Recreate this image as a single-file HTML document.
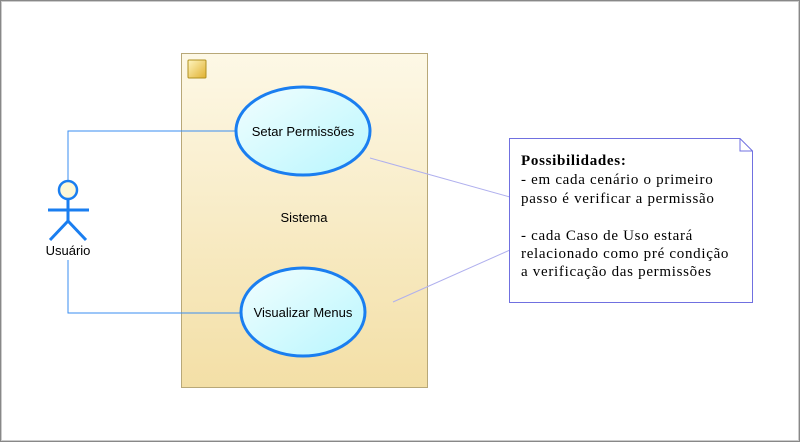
<!DOCTYPE html>
<html><head><style>
body{margin:0;background:#fff;}
svg{display:block;}
</style></head><body>
<svg width="800" height="442" xmlns="http://www.w3.org/2000/svg">
<defs>
<linearGradient id="sys" x1="0" y1="0" x2="0" y2="1">
<stop offset="0" stop-color="#fdf8e6"/><stop offset="1" stop-color="#f3dfa6"/>
</linearGradient>
<linearGradient id="uc" x1="0" y1="0" x2="1" y2="1">
<stop offset="0" stop-color="#f2feff"/><stop offset="1" stop-color="#b8f6fd"/>
</linearGradient>
<linearGradient id="ic" x1="0" y1="0" x2="1" y2="1">
<stop offset="0" stop-color="#fff6c0"/><stop offset="1" stop-color="#e0b030"/>
</linearGradient>
</defs>
<rect x="0.5" y="0.5" width="799" height="441" fill="#fff" stroke="#888"/>
<rect x="1.5" y="1.5" width="797" height="439" fill="none" stroke="#ccc"/>
<rect x="181.5" y="53.5" width="246" height="334" fill="url(#sys)" stroke="#b8a878"/>
<rect x="188" y="60" width="18" height="18" fill="url(#ic)" stroke="#b09020" rx="1"/>
<text x="304" y="222" font-family="Liberation Sans, sans-serif" font-size="13" text-anchor="middle">Sistema</text>
<g stroke="#3a8ef0" stroke-width="1" fill="none">
<polyline points="68,180 68,131 236,131"/>
<polyline points="68,260 68,313 241,313"/>
</g>
<g stroke="#b0b0ee" stroke-width="1">
<line x1="370" y1="158" x2="510" y2="197"/>
<line x1="393" y1="302" x2="510" y2="250"/>
</g>
<ellipse cx="303" cy="131" rx="67" ry="44" fill="url(#uc)" stroke="#1a7ef0" stroke-width="3"/>
<text x="303" y="136" font-family="Liberation Sans, sans-serif" font-size="13" text-anchor="middle">Setar Permissões</text>
<ellipse cx="303" cy="312" rx="62" ry="44" fill="url(#uc)" stroke="#1a7ef0" stroke-width="3"/>
<text x="303" y="317" font-family="Liberation Sans, sans-serif" font-size="13" text-anchor="middle">Visualizar Menus</text>
<g stroke="#1a7ef0" stroke-width="3" fill="none">
<circle cx="68" cy="190" r="9" fill="#fdf8d8" stroke-width="2.5"/>
<line x1="68" y1="199" x2="68" y2="222"/>
<line x1="48" y1="210" x2="89" y2="210"/>
<line x1="68" y1="221" x2="50" y2="240"/>
<line x1="68" y1="221" x2="86" y2="240"/>
</g>
<text x="68" y="255" font-family="Liberation Sans, sans-serif" font-size="13" text-anchor="middle">Usuário</text>
<path d="M509.5,138.5 H740 L752.5,151 V302.5 H509.5 Z" fill="#fff" stroke="#7070e0"/>
<path d="M740,138.5 V151 H752.5" fill="none" stroke="#7070e0"/>
<g font-family="Liberation Serif, serif" font-size="15" letter-spacing="0.7">
<text x="521" y="165" font-weight="bold">Possibilidades:</text>
<text x="521" y="184">- em cada cenário o primeiro</text>
<text x="521" y="203">passo é verificar a permissão</text>
<text x="521" y="240">- cada Caso de Uso estará</text>
<text x="521" y="258">relacionado como pré condição</text>
<text x="521" y="276">a verificação das permissões</text>
</g>
</svg>
</body></html>
